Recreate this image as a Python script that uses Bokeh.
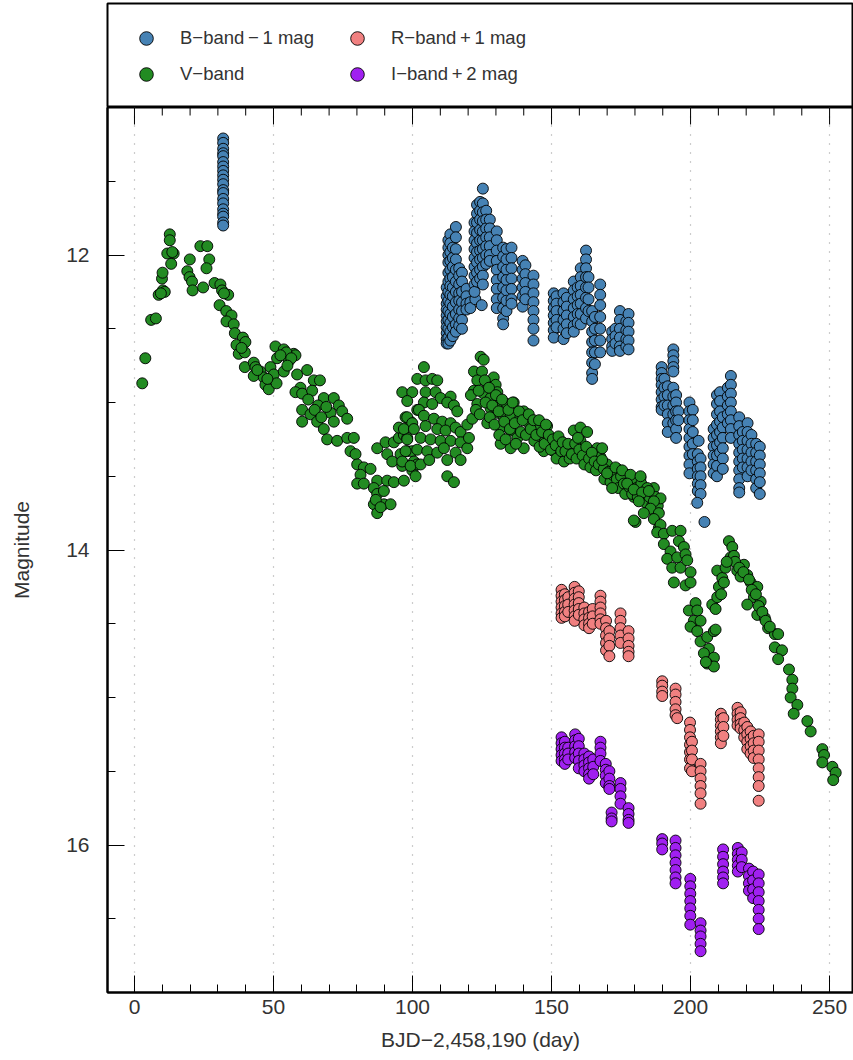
import math
from bokeh.plotting import figure
from bokeh.models import (Range1d, FixedTicker, SingleIntervalTicker, Legend, LegendItem)
from bokeh.layouts import column
from bokeh.embed import file_html
from bokeh.resources import INLINE

# ---------------- data ----------------
# B-band - 1 mag : nightly columns (day, magnitudes)
b_day = [31.9, 112.3, 112.9, 113.6, 114.5, 115.6, 116.8, 117.8, 119.4, 120.8, 122.6, 124.9,
         122.3, 123.2, 124.3, 125.3, 126.5, 127.8, 130.3, 132.6, 133.8, 135.6, 139.6, 140.6,
         143.5, 150.8, 151.8, 154.3, 155.5, 158.0, 159.4, 160.5, 162.4, 163.3, 164.6, 165.6,
         167.5, 171.8, 173.0, 174.6, 176.9, 177.7,
         189.6, 190.6, 191.8, 193.8, 194.8, 195.6, 199.6, 200.8, 202.6, 203.6, 202.4, 205.0,
         202.9, 208.3, 209.5, 210.6, 211.6, 213.4, 214.5, 217.5, 218.8, 220.5, 221.9, 223.6,
         224.9]
b_mags = [
    [11.21, 11.24, 11.28, 11.31, 11.33, 11.37, 11.40, 11.43, 11.46, 11.49, 11.52, 11.56,
     11.58, 11.62, 11.65, 11.69, 11.72, 11.74, 11.78, 11.80],
    [12.22, 12.28, 12.33, 12.37, 12.41, 12.45, 12.49, 12.53, 12.57, 12.60],
    [11.90, 11.95, 12.00, 12.05, 12.12, 12.18, 12.25, 12.31, 12.38, 12.44, 12.50, 12.56, 12.60],
    [11.86, 11.92, 11.98, 12.04, 12.10, 12.16, 12.21, 12.27, 12.33, 12.40, 12.46, 12.52, 12.58],
    [11.95, 12.02, 12.08, 12.15, 12.22, 12.28, 12.35, 12.42, 12.49, 12.55],
    [11.81, 11.88, 11.96, 12.03, 12.10, 12.18, 12.25, 12.32, 12.40, 12.47, 12.52],
    [12.09, 12.14, 12.20, 12.26, 12.31, 12.37, 12.43, 12.48],
    [12.12, 12.18, 12.25, 12.32, 12.38, 12.44, 12.50],
    [12.23, 12.28, 12.33, 12.37],
    [12.32, 12.36],
    [12.30],
    [12.34],
    [11.78, 11.84, 11.90, 11.96, 12.02, 12.08, 12.14, 12.20, 12.25],
    [11.66, 11.72, 11.78, 11.85, 11.92, 11.98, 12.05, 12.12, 12.18],
    [11.64, 11.70, 11.76, 11.83, 11.90, 11.97, 12.03, 12.10, 12.16],
    [11.55, 11.65, 11.71, 11.77, 11.84, 11.90, 11.96, 12.02, 12.08, 12.14, 12.20],
    [11.70, 11.76, 11.82, 11.88, 11.94, 12.00, 12.06],
    [11.76, 11.82, 11.88, 11.94, 12.00, 12.04],
    [11.84, 11.90, 11.97, 12.04, 12.10, 12.17, 12.23, 12.30, 12.36],
    [11.95, 12.01, 12.08, 12.15, 12.22, 12.29, 12.36, 12.43, 12.47],
    [11.96, 12.03, 12.10, 12.17, 12.24, 12.31, 12.38],
    [11.95, 12.02, 12.09, 12.16, 12.23, 12.30, 12.33],
    [12.04, 12.10, 12.16, 12.22, 12.28, 12.35],
    [12.07, 12.13, 12.19, 12.25, 12.30],
    [12.14, 12.20, 12.26, 12.32, 12.38, 12.44, 12.50, 12.58],
    [12.26, 12.31, 12.36, 12.41, 12.46, 12.51, 12.56],
    [12.28, 12.33, 12.38, 12.44, 12.49],
    [12.26, 12.32, 12.38, 12.44, 12.50, 12.57],
    [12.29, 12.35, 12.41, 12.47, 12.53],
    [12.18, 12.24, 12.30, 12.36, 12.42, 12.48, 12.52],
    [12.22, 12.28, 12.34, 12.40, 12.46],
    [12.09, 12.15, 12.21, 12.27, 12.33, 12.40, 12.47],
    [11.97, 12.03, 12.09, 12.15, 12.22, 12.29, 12.36, 12.43],
    [12.15, 12.22, 12.30, 12.38],
    [12.38, 12.45, 12.52, 12.59, 12.66, 12.73, 12.80, 12.84],
    [12.42, 12.50, 12.58, 12.66, 12.74],
    [12.20, 12.27, 12.34, 12.42, 12.50, 12.58, 12.66],
    [12.52, 12.57, 12.62, 12.65],
    [12.50, 12.55, 12.60],
    [12.38, 12.44, 12.50, 12.56, 12.62, 12.65],
    [12.45, 12.51, 12.57, 12.62],
    [12.40, 12.46, 12.52, 12.58, 12.64],
    [12.76, 12.80, 12.84, 12.88, 12.93, 12.98, 13.03, 13.05],
    [12.84, 12.90, 12.96, 13.02],
    [12.89, 12.95, 13.02, 13.08, 13.14, 13.20],
    [12.64, 12.68, 12.72, 12.76, 12.79, 12.90, 12.96, 13.02, 13.08, 13.14],
    [12.95, 13.00, 13.06, 13.12, 13.18, 13.24],
    [13.06, 13.12],
    [13.00, 13.06, 13.12, 13.18, 13.24, 13.30, 13.36, 13.42, 13.48],
    [13.05, 13.12, 13.20, 13.28, 13.35],
    [13.35, 13.40, 13.45, 13.50, 13.55, 13.60],
    [13.38, 13.44, 13.50, 13.56, 13.62],
    [13.68],
    [13.81],
    [13.26],
    [13.18, 13.24, 13.30, 13.36, 13.42, 13.48],
    [12.95, 13.01, 13.08, 13.15, 13.22, 13.29, 13.36, 13.43, 13.50],
    [12.93, 12.99, 13.06, 13.13, 13.20, 13.27, 13.34],
    [13.10, 13.17, 13.24, 13.31, 13.38, 13.45],
    [12.90, 12.96, 13.02, 13.08, 13.14],
    [12.82, 12.88, 12.94, 13.00, 13.06, 13.12, 13.18, 13.24],
    [13.10, 13.16, 13.22, 13.28, 13.34, 13.40, 13.46, 13.52, 13.58, 13.61],
    [13.20, 13.26, 13.32, 13.38, 13.44],
    [13.14, 13.20, 13.26, 13.32, 13.38, 13.44, 13.50],
    [13.22, 13.28, 13.34, 13.40, 13.46],
    [13.28, 13.34, 13.40, 13.46, 13.52, 13.58],
    [13.30, 13.36, 13.42, 13.48, 13.54, 13.62],
]

# V-band : individual points (day, magnitude)
v_obs = [
    (2.8, 12.87), (3.9, 12.70), (6.0, 12.44), (7.7, 12.43), (8.7, 12.27), (10.2, 12.24),
    (9.9, 12.16), (10.1, 12.12), (10.9, 12.25), (9.5, 12.26), (12.7, 11.86), (12.7, 11.90),
    (11.8, 11.99), (14.1, 11.99), (13.2, 12.06), (13.6, 11.98),
    (19.9, 12.03), (19.0, 12.11), (19.8, 12.15), (20.7, 12.18), (20.9, 12.24), (24.7, 12.22),
    (23.7, 11.94), (26.2, 11.94), (26.9, 12.03), (25.9, 12.09),
    (28.8, 12.19), (30.9, 12.20), (31.5, 12.24), (33.7, 12.27), (30.6, 12.34), (32.2, 12.26),
    (33.0, 12.38), (34.9, 12.41), (33.1, 12.45), (35.7, 12.47), (36.1, 12.53), (39.0, 12.56),
    (36.7, 12.61), (39.9, 12.59), (37.5, 12.67), (39.7, 12.66), (38.5, 12.63),
    (39.7, 12.76), (42.9, 12.73), (43.5, 12.76), (45.3, 12.79), (42.9, 12.82), (46.5, 12.83),
    (48.9, 12.76), (50.1, 12.81), (47.1, 12.88), (48.3, 12.91), (51.1, 12.87), (44.2, 12.78),
    (47.8, 12.84),
    (50.7, 12.62), (53.7, 12.64), (57.3, 12.67), (55.5, 12.72), (51.3, 12.70), (53.7, 12.79),
    (57.9, 12.68), (54.6, 12.66), (52.5, 12.68), (56.4, 12.70), (55.0, 12.75),
    (58.5, 12.81), (62.1, 12.78), (59.7, 12.90), (57.9, 12.93), (60.3, 12.94), (64.5, 12.85),
    (66.7, 12.85), (63.9, 12.92), (68.1, 12.97), (60.3, 13.05), (63.3, 13.08), (60.3, 13.13),
    (65.7, 13.13), (68.1, 13.18), (71.7, 12.97), (70.5, 13.07), (73.5, 13.02), (74.7, 13.06),
    (76.5, 13.11), (71.7, 13.13), (69.3, 13.25), (72.9, 13.26), (76.5, 13.24), (78.9, 13.24),
    (62.5, 12.98), (66.0, 13.02), (64.8, 13.05), (69.0, 13.03), (67.2, 13.10),
    (77.7, 13.33), (79.5, 13.35), (80.1, 13.42), (82.5, 13.44), (84.9, 13.45), (81.3, 13.49),
    (80.1, 13.55), (82.5, 13.55), (87.3, 13.53), (90.9, 13.53), (93.3, 13.54),
    (86.1, 13.58), (87.3, 13.62), (86.1, 13.69), (87.3, 13.75), (89.7, 13.69), (92.1, 13.69),
    (89.7, 13.60), (86.8, 13.66), (88.5, 13.71),
    (87.3, 13.31), (90.3, 13.27), (93.3, 13.27), (90.9, 13.35), (92.7, 13.40), (95.1, 13.24),
    (96.9, 13.22), (98.1, 13.24), (95.7, 13.35), (96.3, 13.43), (98.1, 13.33), (99.9, 13.33),
    (100.5, 13.40), (99.9, 13.46), (101.7, 13.42), (95.1, 13.17), (97.5, 13.10), (99.3, 13.13),
    (96.3, 12.93), (99.9, 12.93), (98.1, 12.99), (101.7, 12.84), (101.7, 13.05),
    (104.1, 12.76), (104.7, 12.85), (107.1, 12.84), (108.9, 12.85),
    (104.7, 12.93), (108.3, 12.93), (110.1, 12.97), (113.7, 12.96), (112.5, 13.00),
    (104.1, 13.00), (107.1, 13.01), (102.3, 13.05), (114.9, 13.02), (116.1, 13.06),
    (98.1, 13.10), (99.9, 13.14), (104.1, 13.09), (107.7, 13.11), (110.7, 13.13), (113.7, 13.14),
    (104.7, 13.16), (108.9, 13.18), (111.9, 13.19), (115.5, 13.17), (117.3, 13.20), (119.7, 13.15),
    (121.5, 13.11),
    (96.9, 13.18), (100.5, 13.18), (98.1, 13.25), (102.9, 13.24), (106.5, 13.25), (110.1, 13.26),
    (113.7, 13.26), (117.3, 13.27), (97.5, 13.33), (101.7, 13.32), (105.3, 13.33), (108.9, 13.34),
    (111.3, 13.31), (115.5, 13.34), (119.7, 13.31), (120.3, 13.24),
    (96.3, 13.40), (99.3, 13.43), (102.9, 13.42), (106.0, 13.39), (101.1, 13.50), (112.5, 13.39),
    (117.3, 13.39), (112.5, 13.50), (114.9, 13.54), (96.9, 13.53),
    (124.5, 12.69), (125.6, 12.71),
    (122.1, 12.79), (125.0, 12.79), (123.3, 12.85), (126.9, 12.88), (129.2, 12.83), (129.9, 12.88),
    (130.5, 12.93), (122.1, 12.92), (125.6, 12.94), (128.1, 12.97), (131.7, 12.99), (134.0, 13.01),
    (136.4, 13.00), (140.0, 13.06), (123.3, 13.01), (128.1, 13.04), (130.5, 13.07), (132.8, 13.10),
    (135.3, 13.09), (138.8, 13.10), (141.3, 13.13), (126.9, 13.14), (131.7, 13.17), (135.3, 13.19),
    (137.7, 13.24), (131.7, 13.28), (135.3, 13.31), (140.0, 13.31), (144.8, 13.16), (148.4, 13.16),
    (146.0, 13.22), (149.6, 13.26), (147.2, 13.33), (150.8, 13.33), (153.2, 13.26), (155.6, 13.31),
    (158.0, 13.19), (160.4, 13.17), (162.8, 13.20), (160.4, 13.26), (162.8, 13.32), (166.4, 13.31),
    (167.6, 13.37), (165.2, 13.40), (170.0, 13.42), (173.6, 13.45), (172.4, 13.53), (174.8, 13.51),
    (177.2, 13.49), (179.6, 13.55), (182.0, 13.51), (184.4, 13.60), (186.8, 13.58), (179.6, 13.64),
    (183.2, 13.64), (185.6, 13.69), (180.2, 13.81), (188.0, 13.74), (188.6, 13.85),
    (121.0, 12.95), (122.8, 13.05), (123.8, 12.92), (124.2, 13.08), (126.0, 12.85), (126.3, 13.00),
    (127.5, 12.90), (127.8, 13.10), (128.7, 13.02), (129.5, 13.15), (130.0, 12.95), (131.0, 13.06),
    (131.2, 13.22), (132.2, 12.98), (133.0, 13.13), (133.5, 13.25), (134.5, 13.05), (135.0, 13.18),
    (136.0, 13.00), (136.8, 13.14), (137.2, 13.28), (138.3, 13.06), (139.0, 13.20), (139.6, 13.12),
    (140.8, 13.22), (141.8, 13.08), (142.5, 13.18), (143.5, 13.12), (143.8, 13.26), (144.5, 13.22),
    (145.5, 13.12), (145.7, 13.30), (146.6, 13.20), (147.5, 13.28), (148.0, 13.15), (149.0, 13.22),
    (149.8, 13.32), (150.5, 13.25), (151.5, 13.29), (151.8, 13.38), (152.5, 13.23), (153.5, 13.33),
    (154.0, 13.27), (154.5, 13.40), (155.0, 13.33), (156.0, 13.28), (156.5, 13.38), (157.3, 13.35),
    (158.5, 13.28), (159.0, 13.38), (159.5, 13.24), (160.0, 13.32), (161.2, 13.36), (161.8, 13.42),
    (162.5, 13.30), (163.5, 13.38), (164.0, 13.44), (164.5, 13.34), (165.5, 13.40), (166.0, 13.46),
    (167.0, 13.42), (168.8, 13.45), (169.0, 13.52), (170.5, 13.47), (171.2, 13.54), (172.0, 13.49),
    (173.5, 13.52), (174.0, 13.58), (175.0, 13.50), (176.0, 13.55), (176.5, 13.62), (177.8, 13.57),
    (178.8, 13.53), (179.0, 13.62), (180.5, 13.58), (181.0, 13.64), (182.3, 13.55), (183.8, 13.62),
    (184.0, 13.68), (185.2, 13.64), (186.2, 13.70), (187.3, 13.64), (187.5, 13.76), (188.2, 13.70),
    (168.2, 13.31), (168.2, 13.39), (170.0, 13.48), (173.0, 13.44), (175.4, 13.46), (178.4, 13.49),
    (182.0, 13.50), (184.4, 13.58), (171.8, 13.58), (177.2, 13.55), (179.6, 13.59), (182.6, 13.61),
    (185.0, 13.60), (189.2, 13.65), (186.8, 13.67), (181.4, 13.67), (185.6, 13.72), (188.6, 13.75),
    (183.2, 13.75), (179.6, 13.80), (186.8, 13.79), (189.2, 13.83), (188.0, 13.88), (190.4, 13.89),
    (193.4, 13.87), (196.4, 13.87), (195.8, 13.94), (190.4, 13.96), (192.8, 14.01), (197.6, 13.98),
    (191.6, 14.06), (195.2, 14.05), (198.2, 14.03), (193.4, 14.12), (196.4, 14.12), (198.8, 14.07),
    (194.0, 14.22), (200.0, 14.15), (198.2, 14.24), (200.0, 14.22), (201.8, 14.36), (199.4, 14.41),
    (202.4, 14.41), (201.2, 14.48), (203.6, 14.48), (200.0, 14.52), (202.4, 14.55), (203.6, 14.62),
    (206.0, 14.59), (208.4, 14.55), (209.0, 14.54), (206.6, 14.67), (208.4, 14.73), (206.0, 14.77),
    (208.4, 14.79), (204.8, 14.70), (205.5, 14.76),
    (207.8, 14.37), (209.0, 14.40), (209.6, 14.32), (210.2, 14.25), (209.6, 14.14), (211.4, 14.19),
    (212.6, 14.12), (214.4, 14.05), (213.8, 13.94), (215.0, 13.98), (215.6, 14.04), (219.2, 14.10),
    (216.8, 14.14), (220.4, 14.17), (221.6, 14.22), (224.0, 14.25), (222.8, 14.32), (225.2, 14.35),
    (220.4, 14.37), (224.0, 14.44), (226.7, 14.46), (227.9, 14.53), (230.3, 14.57), (231.5, 14.57),
    (230.3, 14.66), (232.9, 14.68), (231.5, 14.74), (235.4, 14.81), (236.6, 14.88), (236.6, 14.94),
    (236.0, 15.00), (238.4, 15.05), (237.1, 15.11), (242.0, 15.16), (243.2, 15.23), (247.4, 15.35),
    (248.0, 15.39), (247.4, 15.44), (251.0, 15.47), (252.2, 15.51), (251.3, 15.56),
    (216.0, 14.08), (217.5, 14.12), (218.0, 14.18), (219.0, 14.15), (221.0, 14.20), (222.0, 14.27),
    (223.5, 14.30), (224.5, 14.38), (225.8, 14.42), (227.0, 14.48), (228.5, 14.52), (212.0, 14.22),
    (211.0, 14.30), (213.0, 14.08),
]

# R-band + 1 mag : nightly columns
r_day = [153.6, 154.8, 156.0, 158.3, 159.8, 161.8, 163.5, 164.8, 167.6, 169.6, 170.8, 174.8,
         177.7, 189.8, 194.6, 195.2, 199.8, 200.5, 203.6, 210.9, 211.8, 216.9, 218.0, 219.3,
         220.4, 221.6, 222.7, 224.5]
r_mags = [
    [14.27, 14.31, 14.35, 14.39, 14.43, 14.46],
    [14.30, 14.34, 14.38, 14.42, 14.45],
    [14.32, 14.37, 14.42],
    [14.25, 14.29, 14.33, 14.37, 14.41, 14.45, 14.48],
    [14.28, 14.32, 14.36, 14.40, 14.44],
    [14.39, 14.43, 14.47, 14.51],
    [14.42, 14.46, 14.50, 14.53],
    [14.40, 14.45, 14.50],
    [14.31, 14.35, 14.39, 14.43, 14.47, 14.50],
    [14.48, 14.53, 14.58, 14.63, 14.68],
    [14.55, 14.60, 14.65, 14.72],
    [14.43, 14.48, 14.53, 14.58, 14.63],
    [14.55, 14.60, 14.65, 14.69, 14.72],
    [14.89, 14.92, 14.96, 14.99],
    [14.94, 14.98, 15.03, 15.08, 15.12],
    [15.14],
    [15.17, 15.22, 15.27, 15.32, 15.37, 15.42, 15.48],
    [15.30, 15.36, 15.42, 15.50],
    [15.45, 15.50, 15.55, 15.60, 15.65, 15.72],
    [15.11, 15.15, 15.19, 15.23, 15.27, 15.31],
    [15.14, 15.20, 15.26],
    [15.07, 15.11, 15.15, 15.19],
    [15.10, 15.14, 15.18, 15.21],
    [15.17, 15.22, 15.27],
    [15.20, 15.25, 15.30, 15.35],
    [15.23, 15.28, 15.33, 15.38],
    [15.26, 15.31, 15.36, 15.41],
    [15.25, 15.30, 15.36, 15.42, 15.48, 15.54, 15.60, 15.70],
]

# I-band + 2 mag : nightly columns
i_day = [153.6, 154.8, 156.0, 158.5, 159.8, 161.8, 163.5, 165.0, 167.6, 169.5, 170.8, 171.6,
         174.8, 177.7, 189.8, 194.6, 199.9, 203.6, 211.7, 217.0, 218.4, 221.0, 222.5, 224.5]
i_mags = [
    [15.27, 15.31, 15.35, 15.39, 15.43],
    [15.30, 15.34, 15.38, 15.42, 15.45],
    [15.34, 15.38, 15.42],
    [15.25, 15.29, 15.33, 15.37, 15.41],
    [15.28, 15.33, 15.38, 15.43, 15.48],
    [15.38, 15.42, 15.46, 15.50],
    [15.40, 15.44, 15.48, 15.52, 15.55],
    [15.42, 15.47, 15.52],
    [15.30, 15.34, 15.38, 15.43],
    [15.45, 15.49, 15.53, 15.58],
    [15.50, 15.55, 15.60, 15.62],
    [15.78, 15.82, 15.84],
    [15.58, 15.62, 15.67, 15.72],
    [15.75, 15.79, 15.83, 15.85],
    [15.96, 15.99, 16.03],
    [15.97, 16.02, 16.07, 16.12, 16.17, 16.22, 16.26],
    [16.23, 16.28, 16.33, 16.38, 16.43, 16.48, 16.54],
    [16.53, 16.58, 16.62, 16.67, 16.72],
    [16.03, 16.08, 16.13, 16.18, 16.22, 16.26],
    [16.02, 16.06, 16.10, 16.14, 16.18],
    [16.05, 16.10, 16.15],
    [16.16, 16.21, 16.26, 16.31],
    [16.18, 16.24, 16.30, 16.36],
    [16.20, 16.26, 16.32, 16.38, 16.44, 16.50, 16.57],
]

band_labels = ["B\u2212band\u2009\u2212\u20091 mag", "V\u2212band",
               "R\u2212band\u2009+\u20091 mag", "I\u2212band\u2009+\u20092 mag"]
band_colors = ["#4682B4", "#228B22", "#F08080", "#A020F0"]

x_ticks = [0, 50, 100, 150, 200, 250]
x_minor = [10, 20, 30, 40, 60, 70, 80, 90, 110, 120, 130, 140, 160, 170, 180, 190,
           210, 220, 230, 240]
y_ticks = [12, 14, 16]
y_minor = [11.5, 12.5, 13.0, 13.5, 14.5, 15.0, 15.5, 16.5]
y_top = 11.0
y_bottom = 17.0


def flatten(days, mags):
    xs, ys = [], []
    for d, ms in zip(days, mags):
        for m in ms:
            xs.append(d)
            ys.append(m)
    return xs, ys


bx, by = flatten(b_day, b_mags)
vx = [p[0] for p in v_obs]
vy = [p[1] for p in v_obs]
rx, ry = flatten(r_day, r_mags)
ix, iy = flatten(i_day, i_mags)
bands = [(bx, by), (vx, vy), (rx, ry), (ix, iy)]

FONT = "Liberation Sans"
TXT = "#333333"

# ---------------- main plot ----------------
p = figure(width=853, height=953, x_range=Range1d(-9.7, 258.6),
           y_range=Range1d(y_bottom, y_top),
           output_backend="svg", toolbar_location=None,
           min_border_left=107, min_border_right=0, min_border_top=0, min_border_bottom=68)
p.outline_line_color = "black"
p.outline_line_width = 2
p.background_fill_color = "white"

p.xaxis.ticker = FixedTicker(ticks=x_ticks, minor_ticks=x_minor)
p.yaxis.ticker = FixedTicker(ticks=y_ticks, minor_ticks=y_minor)
for ax in (p.xaxis[0], p.yaxis[0]):
    ax.major_tick_in = 17
    ax.major_tick_out = 0
    ax.minor_tick_in = 8
    ax.minor_tick_out = 0
    ax.axis_line_width = 2
    ax.axis_line_color = "black"
    ax.major_tick_line_color = "black"
    ax.minor_tick_line_color = "black"
    ax.major_label_text_font = FONT
    ax.major_label_text_font_size = "21px"
    ax.major_label_text_color = TXT
    ax.axis_label_text_font = FONT
    ax.axis_label_text_font_size = "21px"
    ax.axis_label_text_font_style = "normal"
    ax.axis_label_text_color = TXT
p.xaxis.axis_label = "BJD\u22122,458,190 (day)"
p.yaxis.axis_label = "Magnitude"
p.xaxis.major_label_standoff = 7
p.xaxis.axis_label_standoff = 11
p.yaxis.major_label_standoff = 18
p.yaxis.axis_label_standoff = 30

p.xgrid.ticker = FixedTicker(ticks=x_ticks)
p.xgrid.grid_line_color = "#999999"
p.xgrid.grid_line_dash = "1 8"
p.xgrid.grid_line_width = 1.2
p.ygrid.visible = False

# tick marks along the top edge of the frame (half of each dash is clipped by the frame)
p.scatter(x=x_ticks, y=[y_top] * len(x_ticks), marker="dash", angle=math.pi / 2, size=34,
          line_color="black", line_width=1)
p.scatter(x=x_minor, y=[y_top] * len(x_minor), marker="dash", angle=math.pi / 2, size=16,
          line_color="black", line_width=1)

for (xs, ys), col in zip(bands, band_colors):
    p.scatter(xs, ys, size=11, fill_color=col, line_color="black", line_width=0.9)

# ---------------- legend box ----------------
lg = figure(width=853, height=107, x_range=Range1d(0, 1), y_range=Range1d(0, 1),
            output_backend="svg", toolbar_location=None, x_axis_type=None, y_axis_type=None,
            min_border_left=107, min_border_right=0, min_border_top=3, min_border_bottom=0)
lg.outline_line_color = "black"
lg.outline_line_width = 2
lg.grid.visible = False
rends = []
for (xs, ys), col in zip(bands, band_colors):
    # one real point of each band (outside this box's ranges) feeds the legend swatch
    rends.append(lg.scatter(x=xs[:1], y=ys[:1], size=11, fill_color=col, line_color="black",
                            line_width=0.9))
items = [LegendItem(label=band_labels[k], renderers=[rends[k]]) for k in range(4)]
legend = Legend(items=items, ncols=2, location=(22, 16), glyph_width=34, glyph_height=34,
                label_standoff=17, label_width=158, spacing=2, padding=5, margin=0,
                border_line_color=None, background_fill_alpha=0,
                label_text_font=FONT, label_text_font_size="18.5px", label_text_color=TXT)
lg.add_layout(legend, "center")

layout = column(lg, p, spacing=0)
open("out.html", "w").write(file_html(layout, INLINE))
